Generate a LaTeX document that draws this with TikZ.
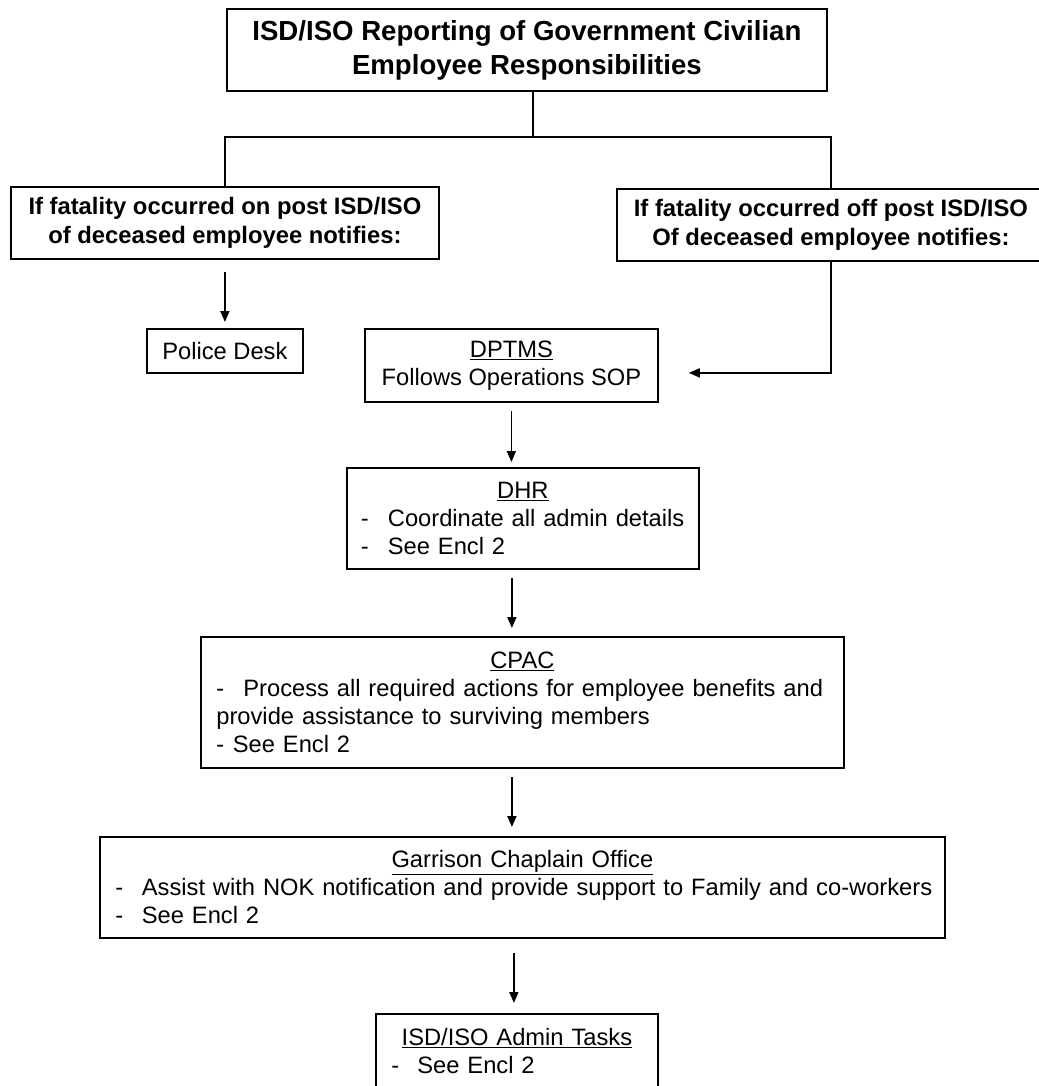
\documentclass[tikz,border=0pt]{standalone}
\usepackage{fontspec}
\setmainfont{Liberation Sans}
\usetikzlibrary{arrows.meta}
\newcommand\bodyfont{\fontsize{23.7pt}{28pt}\selectfont}
\newcommand\boldfont{\fontsize{23.8pt}{29pt}\selectfont\bfseries}
\newcommand\titlefont{\fontsize{27.6pt}{34pt}\selectfont\bfseries}
\newcommand\dashitem[2]{\mbox{\makebox[#1][l]{-}#2}}
\newcommand\headline[1]{\makebox[\linewidth][c]{\underline{#1}}}
\tikzset{
  box/.style={draw, line width=1.8pt, anchor=north west, inner ysep=0pt, align=center},
  arr/.style={line width=1.8pt, -{Triangle[length=11pt,width=9pt]}},
  conn/.style={line width=1.8pt}
}
\begin{document}
\begin{tikzpicture}[x=1pt,y=-1pt]
\useasboundingbox[fill=white] (0,0) rectangle (1038,1086);
\node[box, font=\titlefont, minimum width=600pt, minimum height=82pt] (title) at (226,8)
  {ISD/ISO Reporting of Government Civilian\\Employee Responsibilities};
\node[box, font=\boldfont, minimum width=428pt, minimum height=72pt] (left) at (10,186)
  {If fatality occurred on post ISD/ISO\\of deceased employee notifies:};
\node[box, font=\boldfont, minimum width=428pt, minimum height=72pt] (right) at (616,188)
  {If fatality occurred off post ISD/ISO\\Of deceased employee notifies:};
\node[box, font=\bodyfont, minimum width=156pt, minimum height=44pt] (police) at (146,328)
  {Police Desk};
\node[box, font=\bodyfont, minimum width=293pt, minimum height=73pt] (dptms) at (364,328)
  {\underline{DPTMS}\\Follows Operations SOP};
\node[box, font=\bodyfont, align=left, text width=324pt, inner xsep=14pt, minimum height=101pt] (dhr) at (346,467)
  {\headline{DHR}\\\dashitem{27pt}{Coordinate all admin details}\\\dashitem{27pt}{See Encl 2}};
\node[box, font=\bodyfont, align=left, text width=612pt, inner xsep=15.5pt, minimum height=131pt] (cpac) at (200,636)
  {\headline{CPAC}\\\dashitem{27pt}{Process all required actions for employee benefits and}\\\mbox{provide assistance to surviving members}\\\dashitem{16.5pt}{See Encl 2}};
\node[box, font=\bodyfont, align=left, text width=814pt, inner xsep=15.5pt, minimum height=101pt] (garrison) at (99,836)
  {\headline{Garrison Chaplain Office}\\\dashitem{26.5pt}{Assist with NOK notification and provide support to Family and co-workers}\\\dashitem{26.5pt}{See Encl 2}};
\node[box, font=\bodyfont, align=left, text width=251pt, inner xsep=15.5pt, inner ysep=14.5pt] (admin) at (375,1013)
  {\headline{ISD/ISO Admin Tasks}\\\dashitem{26pt}{See Encl 2\rule[-40pt]{0pt}{40pt}}};
\coordinate (j) at (533,137);
\draw[conn] (title.south -| j) -- (j);
\draw[conn] (left.north) |- (j) -| (right.north);
\draw[arr, shorten <=12pt, shorten >=6pt] (left.south) -- (police.north);
\draw[arr, shorten >=30pt] (right.south) |- ([yshift=-7.5pt]dptms.east);
\draw[arr, shorten <=8pt, shorten >=5pt] (dptms.south) -- (dptms.south |- dhr.north);
\draw[arr, shorten <=8pt, shorten >=8pt] ([xshift=-11pt]dhr.south) -- ([xshift=-11pt]dhr.south |- cpac.north);
\draw[arr, shorten <=8pt, shorten >=9pt] ([xshift=-10.5pt]cpac.south) -- ([xshift=-10.5pt]cpac.south |- garrison.north);
\draw[arr, shorten <=14pt, shorten >=10pt] ([xshift=-8.5pt]garrison.south) -- ([xshift=-8.5pt]garrison.south |- admin.north);
\end{tikzpicture}
\end{document}
